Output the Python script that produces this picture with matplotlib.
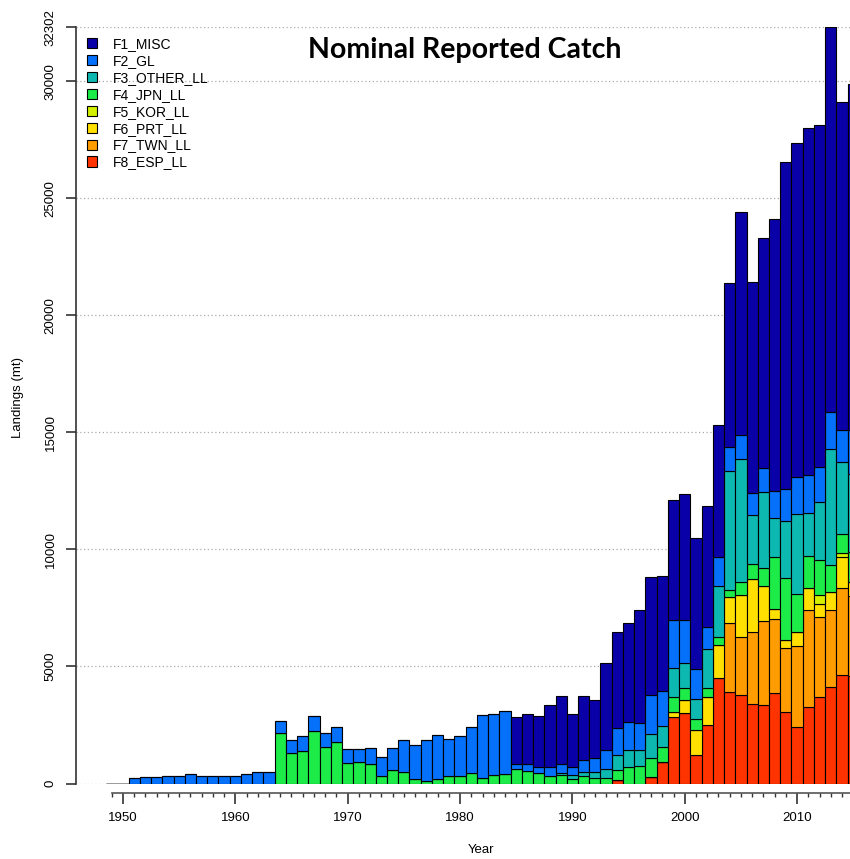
import numpy as np
import matplotlib.pyplot as plt
from matplotlib.patches import Patch

# Landings (mt) by fleet, 1949-2015
years = list(range(1949, 2016))

f1_misc = [0] * 36 + [2030, 2135, 2163, 2635, 2916, 2263, 2730, 2495, 3730, 4100,
                      4200, 4812, 5052, 4900, 5124, 5381, 5593, 5153, 5625, 7004,
                      9535, 9036, 9823, 11628, 13963, 14278, 14830, 14616, 16452, 14018,
                      14800]
f2_gl = [0, 0, 250, 265, 265, 335, 335, 390, 335, 335, 335, 335, 405, 480, 480,
         530, 570, 640, 625, 610, 670, 590, 555, 695, 815, 925, 1355, 1480, 1750, 1900,
         1590, 1705, 1965, 2660, 2590, 2715,
         200, 270, 281, 384, 380, 355, 485, 565, 795, 1166,
         1210, 1167, 1679, 1495, 2063, 1821, 1281, 966, 1252, 1025,
         1024, 927, 996, 1182, 1367, 1592, 1607, 1465, 1567, 1353, 1900]
f3_other_ll = [0] * 40 + [78, 182, 205, 285, 415, 641, 711, 670, 1026, 882,
                          1238, 1097, 854, 1667, 2190, 5094, 5226, 2105, 3273, 1638,
                          2461, 3430, 1851, 2491, 4953, 3087, 3300]
f4_jpn_ll = [0] * 15 + [2140, 1290, 1390, 2255, 1560, 1760, 880, 905, 820, 330,
                        590, 505, 180, 120, 190, 310, 335, 460, 250, 375, 395,
                        620, 550, 436, 333, 362, 180, 300, 220, 220, 426,
                        719, 760, 782, 641, 613, 498, 456, 383, 329, 312,
                        568, 607, 756, 2248, 2635, 1596, 1379, 1495, 1139, 825, 1300]
f5_kor_ll = [0] * 63 + [384, 0, 144, 0]
f6_prt_ll = [0] * 50 + [214, 568, 1068, 1170, 1422, 1084, 1781, 2277, 1481, 426,
                        356, 611, 926, 569, 782, 1350, 600]
f7_twn_ll = [0] * 55 + [2946, 2489, 3090, 3579, 3161, 2704, 3473, 4157, 3389, 3274,
                        3702, 3400]
f8_esp_ll = [0] * 45 + [150, 0, 0, 292, 932, 2853, 2997, 1217, 2510, 4492,
                        3920, 3779, 3386, 3373, 3850, 3067, 2398, 3252, 3707, 4135,
                        4633, 4600]

labels = ['F1_MISC', 'F2_GL', 'F3_OTHER_LL', 'F4_JPN_LL',
          'F5_KOR_LL', 'F6_PRT_LL', 'F7_TWN_LL', 'F8_ESP_LL']
colors = ['#0A00A8', '#0570FA', '#0DB8B0', '#1CEB48',
          '#D2F000', '#FFE000', '#FF9C00', '#FF3300']
series = [f1_misc, f2_gl, f3_other_ll, f4_jpn_ll,
          f5_kor_ll, f6_prt_ll, f7_twn_ll, f8_esp_ll]

plt.rcParams['font.family'] = ['Liberation Sans', 'DejaVu Sans']

W, H = 850, 859
fig = plt.figure(figsize=(W / 100, H / 100), dpi=100)
ax_left, ax_right = 76, 889
ax_bottom, ax_top = 783.5, 27.3
ax = fig.add_axes([ax_left / W, (H - ax_bottom) / H,
                   (ax_right - ax_left) / W, (ax_bottom - ax_top) / H])

# stack from the bottom (F8) up to F1
bottom = np.zeros(len(years))
for vals, col in reversed(list(zip(series, colors))):
    vals = np.array(vals, dtype=float)
    ax.bar(years, vals, width=1.0, bottom=bottom, color=col,
           edgecolor='black', linewidth=0.8, zorder=3)
    bottom += vals

ymax = bottom.max()
ax.set_xlim(1945.82, 2018.18)
ax.set_ylim(0, ymax)

yticks = [0, 5000, 10000, 15000, 20000, 25000, 30000, int(round(ymax))]
ax.set_yticks(yticks)
ax.set_yticklabels([str(t) for t in yticks], rotation=90, va='center', fontsize=9.5)
for t in yticks:
    ax.axhline(t, color='#aaaaaa', lw=0.9, ls=(0, (1, 2)), zorder=1)

ax.set_xticks(range(1950, 2020, 10))
ax.set_xticks(range(1949, 2019), minor=True)
ax.tick_params(axis='x', which='major', length=8, width=1.2, pad=6,
               labelsize=9.5, color='#333333')
ax.tick_params(axis='x', which='minor', length=3, width=1.0, color='#333333')
ax.tick_params(axis='y', length=7, width=1.2, pad=7, color='#333333')

for s in ['top', 'right']:
    ax.spines[s].set_visible(False)
ax.spines['left'].set_bounds(0, ymax)
ax.spines['left'].set_linewidth(1.2)
ax.spines['left'].set_color('#333333')
ax.spines['bottom'].set_position(('outward', 6.6))
ax.spines['bottom'].set_bounds(1949, 2018)
ax.spines['bottom'].set_linewidth(1.2)
ax.spines['bottom'].set_color('#555555')

fig.text(481 / W, 1 - 850 / H, 'Year', ha='center', va='center', fontsize=9.5)
fig.text(18 / W, 1 - 398 / H, 'Landings (mt)', ha='center', va='center',
         rotation=90, fontsize=9.5)
fig.text(465 / W, 1 - 50 / H, 'Nominal Reported Catch', ha='center', va='center',
         fontsize=20.5, fontweight='bold', family=['Lato', 'DejaVu Sans'])

handles = [Patch(facecolor=c, edgecolor='black', linewidth=0.8) for c in colors]
fig.legend(handles, labels, loc='upper left', bbox_to_anchor=(80 / W, 1 - 30 / H),
           frameon=False, fontsize=10, handlelength=0.75, handleheight=0.75,
           handletextpad=1.1, labelspacing=0.21, borderpad=0)

fig.savefig('out.png', dpi=100)
